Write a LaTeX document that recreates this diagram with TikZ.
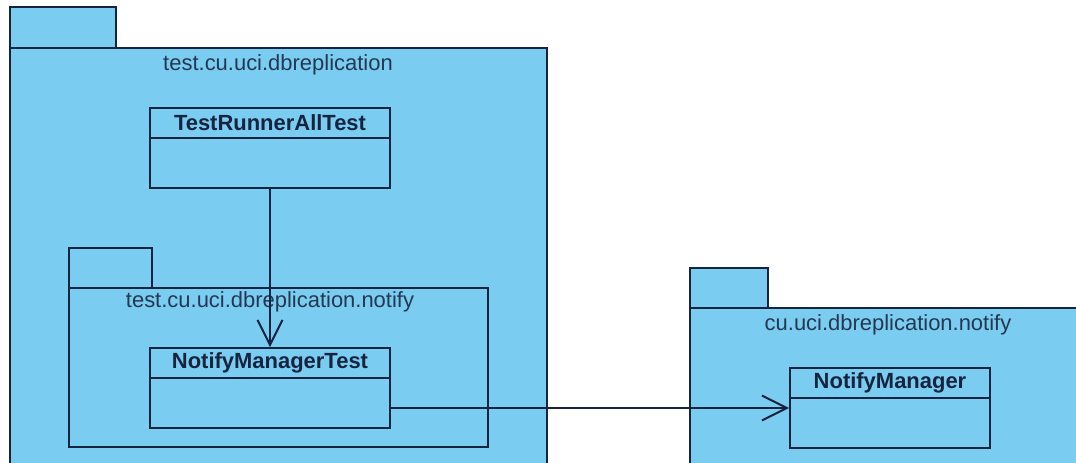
\documentclass[tikz,border=0pt]{standalone}
\usepackage{fontspec}
\setmainfont{Liberation Sans}
\usetikzlibrary{arrows.meta,positioning}

\definecolor{pkgfill}{RGB}{122,205,241}
\definecolor{umlline}{RGB}{22,36,64}
\definecolor{pkgtext}{RGB}{36,56,82}

\tikzset{
  pkg/.style={draw=umlline, fill=pkgfill, line width=1.1pt},
  pkglabel/.style={text=pkgtext, inner sep=0pt, font=\fontsize{12.5}{14}\selectfont},
  classhead/.style={draw=umlline, fill=pkgfill, line width=1.1pt, inner sep=0pt,
    minimum height=0.6cm, text=umlline, font=\bfseries\fontsize{12.5}{14}\selectfont},
  classbody/.style={draw=umlline, fill=pkgfill, line width=1.1pt, inner sep=0pt,
    minimum height=1cm},
  dep/.style={draw=umlline, line width=1.1pt, -{Straight Barb[length=0.5cm,width=0.5cm]}}
}

\begin{document}
\begin{tikzpicture}[x=0.02cm, y=-0.02cm, node distance=-1.1pt]
  \useasboundingbox (0,0) rectangle (1076,463);
  \fill[white] (0,0) rectangle (1076,463);

  % package test.cu.uci.dbreplication
  \draw[pkg] (10,7) rectangle (116,48);
  \draw[pkg] (10,48) rectangle (547,490);
  \node[pkglabel] (outerlbl) at (278,65) {test.cu.uci.dbreplication};

  % package test.cu.uci.dbreplication.notify
  \draw[pkg] (69,248) rectangle (152,288);
  \draw[pkg] (69,288) rectangle (488,447);
  \node[pkglabel] (innerlbl) at (270,302) {test.cu.uci.dbreplication.notify};

  % package cu.uci.dbreplication.notify
  \draw[pkg] (690,268) rectangle (768,308);
  \draw[pkg] (690,308) rectangle (1100,490);
  \node[pkglabel] (rightlbl) at (888,325) {cu.uci.dbreplication.notify};

  % classes
  \node[classhead, minimum width=4.8cm] (trthead) at (270,123) {TestRunnerAllTest};
  \node[classbody, minimum width=4.8cm, below=of trthead] (trtbody) {};

  \node[classhead, minimum width=4.8cm] (nmthead) at (270,363) {NotifyManagerTest};
  \node[classbody, minimum width=4.8cm, below=of nmthead] (nmtbody) {};

  \node[classhead, minimum width=4cm] (nmhead) at (890,383) {NotifyManager};
  \node[classbody, minimum width=4cm, below=of nmhead] (nmbody) {};

  % dependencies
  \draw[dep] (trtbody.south) -- (nmthead.north);
  \draw[dep] ([yshift=-0.1cm]nmtbody.east) -- ([yshift=-0.1cm]nmtbody.east -| nmbody.west);
\end{tikzpicture}
\end{document}
